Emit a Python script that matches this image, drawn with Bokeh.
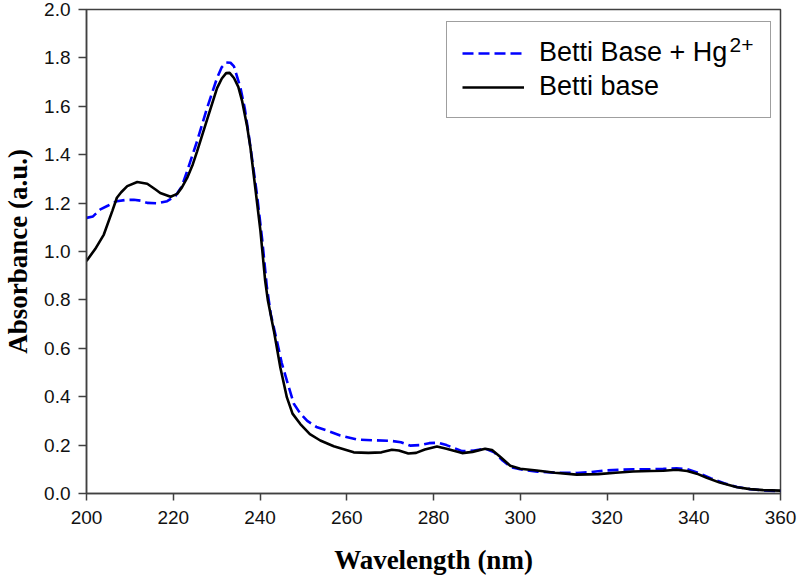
from bokeh.plotting import figure
from bokeh.models import Range1d, FixedTicker, Legend, LegendItem, NumeralTickFormatter, Label
from bokeh.embed import file_html
from bokeh.resources import INLINE

# Betti base + Hg2+ (blue dashed)
wl_hg = [200, 201.5, 203.2, 205, 207, 209, 210.9, 212.5, 214, 216.3, 218.6, 220.5, 222, 223.2,
         225.5, 227.8, 230.1, 231.2, 232.2, 233.2, 234, 235.5, 236.5, 237.4, 239.3, 240.5, 241.6,
         242.5, 243.9, 245, 246.2, 247.8, 249.3, 250.9, 253, 255.5, 258.5, 262.4, 266, 270, 272.5,
         274.6, 277, 279, 281, 283, 286.6, 289, 292, 294, 296, 298, 300, 304, 308, 313, 316, 319.6,
         323, 326, 330, 333, 336, 338.5, 341, 344, 347, 350, 353, 356, 360]
abs_hg = [1.139, 1.145, 1.174, 1.19, 1.208, 1.213, 1.214, 1.21, 1.201, 1.199, 1.208, 1.229, 1.27, 1.332,
          1.456, 1.593, 1.717, 1.762, 1.781, 1.78, 1.765, 1.676, 1.59, 1.483, 1.236, 1.05, 0.85,
          0.74, 0.63, 0.54, 0.466, 0.371, 0.33, 0.30, 0.275, 0.26, 0.24, 0.223, 0.22, 0.218, 0.212,
          0.198, 0.2, 0.208, 0.21, 0.2, 0.175, 0.177, 0.185, 0.17, 0.135, 0.108, 0.1, 0.09, 0.086, 0.085, 0.088, 0.095,
          0.098, 0.1, 0.101, 0.102, 0.104, 0.1, 0.085, 0.062, 0.042, 0.027, 0.018, 0.013, 0.01]

# Betti base (black solid)
wl_bb = [200, 202, 204, 206, 207, 208, 209.4, 211.7, 214, 216, 217, 219.4, 220.9, 222, 223.2, 224.5,
         225.5, 227.8, 230.1, 231.2, 232.2, 233, 234, 235, 235.9, 237, 237.8, 239, 240.1, 241.2, 241.8,
         243.2, 244.7, 246.2, 247.5, 249.3, 251.5, 253.9, 257, 261.6, 265, 268, 270.4, 272, 274.2, 276,
         278, 280.8, 283, 286.6, 289, 291.9, 293.5, 295.5, 297.7, 300, 303.8, 308, 313, 318, 322, 326,
         330, 333, 336, 338.5, 340.7, 343, 346, 350, 353, 356, 360]
abs_bb = [0.961, 1.01, 1.07, 1.17, 1.222, 1.245, 1.27, 1.287, 1.28, 1.255, 1.242, 1.226, 1.238, 1.265, 1.304, 1.36,
          1.414, 1.545, 1.675, 1.715, 1.737, 1.738, 1.717, 1.68, 1.62, 1.52, 1.428, 1.25, 1.085, 0.878, 0.80,
          0.672, 0.52, 0.397, 0.33, 0.287, 0.245, 0.219, 0.195, 0.17, 0.168, 0.17, 0.181, 0.178, 0.165, 0.168,
          0.182, 0.194, 0.185, 0.167, 0.172, 0.185, 0.18, 0.15, 0.115, 0.102, 0.095, 0.086, 0.078, 0.08, 0.086, 0.091,
          0.093, 0.094, 0.098, 0.093, 0.082, 0.065, 0.045, 0.026, 0.018, 0.014, 0.012]

x_ticks = [200, 220, 240, 260, 280, 300, 320, 340, 360]
y_ticks = [0.0, 0.2, 0.4, 0.6, 0.8, 1.0, 1.2, 1.4, 1.6, 1.8, 2.0]
label_hg = "Betti Base + Hg"
label_hg_sup = "2+"
label_bb = "Betti base"

p = figure(frame_width=694, frame_height=484, output_backend="svg", toolbar_location=None,
           x_range=Range1d(200, 360), y_range=Range1d(0, 2.0),
           min_border_left=86, min_border_right=17, min_border_top=9, min_border_bottom=86)
p.background_fill_color = "white"
p.border_fill_color = "white"
p.xgrid.visible = False
p.ygrid.visible = False
p.outline_line_color = "#404040"
p.outline_line_width = 1.5

r_hg = p.line(wl_hg, abs_hg, line_color="#0000FF", line_width=2.6, line_dash="11 5")
r_bb = p.line(wl_bb, abs_bb, line_color="black", line_width=2.6)

for ax in (p.xaxis[0], p.yaxis[0]):
    ax.axis_line_color = "#404040"
    ax.axis_line_width = 1.5
    ax.major_tick_line_color = "#404040"
    ax.major_tick_line_width = 1.5
    ax.major_tick_in = 0
    ax.minor_tick_line_color = None
    ax.major_label_text_font = "Liberation Sans"
    ax.major_label_text_font_size = "19px"
    ax.major_label_text_color = "#111111"
    ax.axis_label_text_font = "Liberation Serif"
    ax.axis_label_text_font_style = "bold"
    ax.axis_label_text_font_size = "27px"
    ax.axis_label_text_color = "black"

p.xaxis[0].ticker = FixedTicker(ticks=x_ticks)
p.yaxis[0].ticker = FixedTicker(ticks=y_ticks)
p.yaxis[0].formatter = NumeralTickFormatter(format="0.0")
p.xaxis[0].major_tick_out = 7
p.yaxis[0].major_tick_out = 8
p.xaxis[0].major_label_standoff = 10
p.yaxis[0].major_label_standoff = 8
p.xaxis[0].axis_label = "Wavelength (nm)"
p.yaxis[0].axis_label = "Absorbance (a.u.)"
p.xaxis[0].axis_label_standoff = 18
p.yaxis[0].axis_label_standoff = 8

legend = Legend(items=[LegendItem(label=label_hg, renderers=[r_hg]),
                       LegendItem(label=label_bb, renderers=[r_bb])],
                location=(360, 375))
legend.label_text_font = "Liberation Sans"
legend.label_text_font_size = "27px"
legend.label_text_color = "black"
legend.glyph_width = 62
legend.glyph_height = 30
legend.label_height = 30
legend.label_width = 216
legend.label_standoff = 15
legend.padding = 15
legend.spacing = 3
legend.margin = 0
legend.border_line_color = "#404040"
legend.border_line_width = 1.5
legend.background_fill_alpha = 0.0
p.add_layout(legend, "center")

sup = Label(x=643, y=449, x_units="screen", y_units="screen", text=label_hg_sup,
            text_font="Liberation Sans", text_font_size="21px", text_color="black",
            text_baseline="alphabetic", text_align="left")
p.add_layout(sup, "center")

open("out.html", "w").write(file_html(p, INLINE))
